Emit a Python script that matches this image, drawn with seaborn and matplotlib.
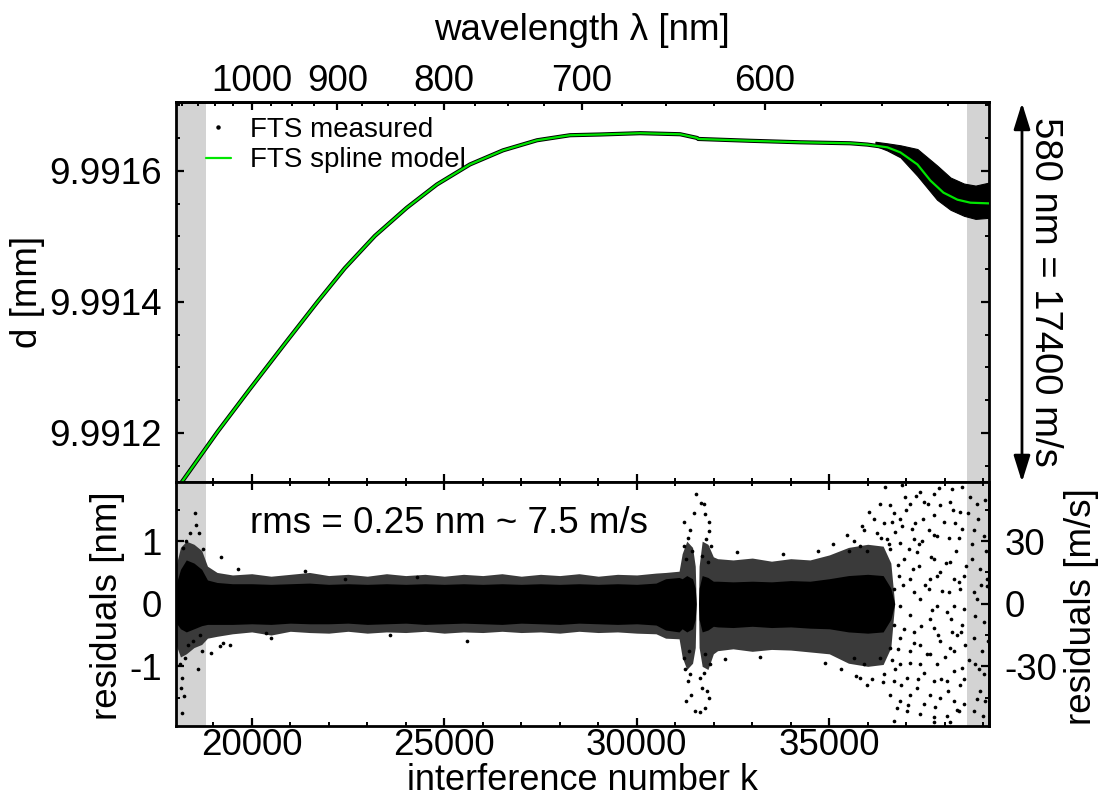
import numpy as np
import pandas as pd
import matplotlib
matplotlib.use("Agg")
import matplotlib.pyplot as plt
import seaborn as sns
from matplotlib.lines import Line2D
from matplotlib.ticker import MultipleLocator, FixedLocator, FormatStrFormatter, NullFormatter

# ---------------- data ----------------
# spline model d(k) [mm]
k_model = [18100, 18206, 19116, 19948, 20858, 21716, 22418, 23198, 24030, 24810,
           25668, 26526, 27410, 28268, 29048, 30088, 31128, 31570, 31596, 32948,
           34248, 35548, 35990, 36510, 36848, 37290, 37628, 37966, 38330, 38668, 39188]
d_model = [9.9911180, 9.9911268, 9.9912020, 9.9912667, 9.9913360, 9.9914006, 9.9914514,
           9.9915006, 9.9915437, 9.9915791, 9.9916097, 9.9916312, 9.9916466, 9.9916543,
           9.9916554, 9.9916574, 9.9916558, 9.9916501, 9.9916486, 9.9916458, 9.9916435,
           9.9916420, 9.9916400, 9.9916358, 9.9916281, 9.9916097, 9.9915851, 9.9915667,
           9.9915559, 9.9915513, 9.9915502]

# spread of the measured points where they scatter (k > 36000) [mm]
meas_k = [36200, 36500, 36850, 37290, 37800, 38150, 38500, 38800, 39150]
meas_hi = [9.9916443, 9.9916420, 9.9916389, 9.9916332, 9.9916082, 9.9915897, 9.9915805, 9.9915774, 9.9915820]
meas_lo = [9.9916381, 9.9916312, 9.9916205, 9.9915923, 9.9915559, 9.9915405, 9.9915313, 9.9915266, 9.9915282]

# dense residual cloud envelope [nm]
band_k = [18030, 18150, 18300, 18500, 18700, 18850, 19100, 19500, 20000, 20500, 21000,
          21500, 22000, 22500, 23000, 23500, 24000, 24500, 25000, 25500, 26000, 26500,
          27000, 27500, 28000, 28500, 29000, 29500, 30000, 30500, 30750, 31100, 31180,
          31300, 31450, 31520, 31545, 31605, 31620, 31700, 31850, 31990, 32100, 32500,
          33000, 33500, 34000, 34500, 35000, 35500, 36000, 36400, 36600, 36700]
band_outer_hi = [0.60, 0.90, 1.00, 0.95, 0.85, 0.60, 0.50, 0.46, 0.48, 0.44, 0.47,
                 0.50, 0.45, 0.47, 0.44, 0.48, 0.45, 0.47, 0.44, 0.47, 0.45, 0.48,
                 0.44, 0.47, 0.45, 0.48, 0.44, 0.47, 0.46, 0.49, 0.50, 0.52, 0.80,
                 1.00, 0.90, 0.60, 0.0, 0.0, 0.60, 1.00, 0.95, 0.75, 0.72, 0.70,
                 0.73, 0.68, 0.72, 0.70, 0.78, 0.90, 0.95, 0.92, 0.65, 0.0]
band_inner_hi = [0.30, 0.55, 0.70, 0.65, 0.55, 0.38, 0.34, 0.32, 0.32, 0.31, 0.32,
                 0.33, 0.31, 0.32, 0.31, 0.32, 0.31, 0.32, 0.31, 0.32, 0.31, 0.32,
                 0.31, 0.32, 0.31, 0.32, 0.31, 0.32, 0.31, 0.33, 0.40, 0.42, 0.40,
                 0.45, 0.40, 0.25, 0.0, 0.0, 0.25, 0.45, 0.42, 0.36, 0.36, 0.35,
                 0.36, 0.35, 0.37, 0.36, 0.40, 0.45, 0.47, 0.45, 0.25, 0.0]
band_inner_lo = [-0.30, -0.40, -0.45, -0.40, -0.35, -0.33, -0.33, -0.33, -0.32, -0.33, -0.31,
                 -0.32, -0.32, -0.31, -0.33, -0.32, -0.31, -0.33, -0.32, -0.31, -0.32, -0.33,
                 -0.31, -0.32, -0.33, -0.31, -0.32, -0.33, -0.32, -0.34, -0.42, -0.45, -0.40,
                 -0.45, -0.40, -0.25, 0.0, 0.0, -0.25, -0.45, -0.42, -0.36, -0.37, -0.38,
                 -0.36, -0.38, -0.37, -0.39, -0.40, -0.45, -0.47, -0.45, -0.25, 0.0]
band_outer_lo = [-0.65, -0.85, -0.80, -0.70, -0.65, -0.55, -0.52, -0.48, -0.45, -0.50, -0.44,
                 -0.46, -0.47, -0.44, -0.47, -0.45, -0.46, -0.44, -0.47, -0.45, -0.46, -0.44,
                 -0.46, -0.45, -0.47, -0.44, -0.46, -0.45, -0.47, -0.48, -0.55, -0.56, -0.85,
                 -1.05, -0.95, -0.70, 0.0, 0.0, -0.70, -1.00, -1.05, -0.80, -0.75, -0.72,
                 -0.76, -0.73, -0.74, -0.77, -0.80, -0.95, -1.00, -0.97, -0.70, 0.0]

# individual (sparse) residual points [k], [nm]
sparse_k = [18518, 18544, 18405, 18631, 18284, 18735, 18215, 19211, 18197, 18154, 18232, 18180,
            18605, 18717, 18951, 19168, 19255, 19428, 18128, 18258, 18345, 18475, 18648,
            21378, 19645, 20381, 20511, 23588, 25581, 24282, 22418,
            31535, 31674, 31475, 31761, 31371, 31865, 31319, 31804, 31215, 31925, 31431, 31691,
            31284, 31839, 31258, 31388, 31735, 31319, 31648, 31821, 31865, 31518, 31648, 31778,
            31215, 31908, 31345, 31778, 31230, 31400, 31700, 31880, 31280, 31760,
            36459, 36892, 36978, 37368, 37715, 38192, 38452, 36025, 36588, 36328, 36675, 37108,
            37455, 37888, 38148, 38408, 35895, 36415, 36632, 36892, 37238, 37585, 37715, 38278,
            35635, 35808, 36242, 36502, 36848, 37195, 37412, 37802, 38365, 35505, 35982, 36588,
            36935, 37282, 37715, 38148, 37888, 37325, 36805, 37108, 37628, 38235, 38495, 36675,
            37195, 37585, 38105, 38408, 36848, 37368, 37802, 38235, 38495, 37108, 37628, 38061,
            36675, 37195, 37715, 38192, 38452, 36848, 37368, 37888, 38322, 36588, 37108, 37628,
            38148, 38538, 35635, 35895, 36328, 36848, 37368, 37802, 38235, 38452, 35808, 35982,
            36415, 36675, 37022, 37282, 37715, 38061, 38408, 36588, 36848, 37108, 37455, 37888,
            38235, 38495, 36762, 37022, 37368, 37715, 38061, 38365, 36675, 37715, 38148,
            38668, 38842, 39058, 38755, 39015, 38712, 38928, 39102, 38755, 38842, 39102, 39015,
            38755, 38972, 38798, 39015, 38928, 38842, 39058, 38755,
            36550, 36620, 36700, 36720, 36780, 36790, 36830, 36870, 36910, 36950, 36990, 37040,
            37060, 37090, 37150, 37170, 37210, 37250, 37300, 37340, 37390, 37430, 37470, 37500,
            37540, 37560, 37610, 37650, 37680, 37730, 37760, 37790, 37830, 37860, 37900, 37940,
            37980, 38010, 38040, 38080, 38120, 38170, 38210, 38250, 38290, 38330, 38380, 38420,
            38460, 38510, 38550, 38600, 38640, 38700, 38780, 38860, 38900, 38950, 39000, 39080,
            39120, 35100, 35300, 35450, 35700, 35850, 36100, 36150, 36350, 36400, 34700, 34900,
            33800, 33200, 32600, 32300]
sparse_r = [1.45, 1.26, 1.13, 1.13, 1.00, 0.87, 0.89, 0.74, -1.18, -1.34, -1.47, -1.75,
            -1.05, -0.76, -0.79, -0.68, -0.63, -0.66, -0.97, -0.87, -0.66, -0.60, -0.50,
            0.53, 0.55, -0.47, -0.55, -0.50, -0.60, 0.42, 0.40,
            1.75, 1.61, 1.45, 1.43, 1.18, 1.16, 1.05, 1.03, 0.92, 0.92, 0.84, 0.76,
            0.71, 0.66, -1.05, -1.13, -1.10, -1.23, -1.18, -1.39, -1.50, -1.71, -1.73, -1.66,
            -0.87, -0.97, -0.76, -0.81, 1.30, -1.45, -1.35, 1.30, -1.55, 1.60,
            1.87, 1.89, 1.71, 1.79, 1.76, 1.84, 1.87, 1.47, 1.58, 1.60, 1.45, 1.60,
            1.63, 1.58, 1.63, 1.47, 1.18, 1.29, 1.31, 1.24, 1.29, 1.18, 1.42, 1.29,
            1.00, 0.92, 1.13, 1.03, 0.97, 1.03, 1.00, 1.08, 1.05, 0.84, 0.84, 0.87,
            0.71, 0.82, 0.71, 0.66, 0.50, 0.60, 0.45, 0.40, 0.40, 0.40, 0.45, 0.24,
            0.18, 0.24, 0.18, 0.24, -0.03, 0.08, -0.03, -0.03, -0.08, -0.18, -0.24, -0.13,
            -0.34, -0.45, -0.39, -0.45, -0.34, -0.55, -0.66, -0.60, -0.50, -0.71, -0.76, -0.81,
            -0.71, -0.66, -0.87, -0.97, -0.87, -0.97, -0.97, -0.97, -1.08, -1.02, -1.18, -1.29,
            -1.13, -1.23, -1.18, -1.34, -1.23, -1.23, -1.29, -1.45, -1.55, -1.45, -1.60, -1.50,
            -1.55, -1.60, -1.66, -1.71, -1.76, -1.81, -1.79, -1.71, -1.87, -1.89, -1.89,
            1.71, 1.60, 1.66, 1.18, 1.08, 0.71, 0.55, 0.40, 0.18, 0.08, 0.29, -0.29,
            -0.55, -0.76, -0.97, -1.13, -1.39, -1.52, -1.55, -1.71,
            0.95, -0.90, 1.15, -1.05, 0.62, -0.72, 1.35, -1.30, 0.30, -0.40, 1.50, -1.62,
            0.88, -0.95, 1.20, 0.55, -0.62, 1.72, -1.20, 0.95, -0.35, 1.35, -1.10, 0.30,
            -0.80, 1.60, -1.45, 0.75, -0.10, 1.10, -1.65, 0.45, -0.50, 1.85, -1.20, 0.20,
            1.30, -0.85, 0.65, -1.40, 1.05, -0.25, 1.50, -0.75, 0.85, -1.70, 0.35, -0.45,
            1.20, -1.20, 0.60, 1.45, -0.90, 0.95, -0.20, 1.35, -1.05, 0.30, -1.80, 0.85,
            -0.60, 0.95, -1.05, 1.10, -1.15, 1.25, -1.20, 1.35, 1.05, -1.25, 0.85, -0.95,
            0.80, -0.85, 0.82, -0.88]

excluded_left = (18020, 18800)
excluded_right = (38580, 39150)

top_ticks_nm = [1000, 900, 800, 700, 600]
top_minor_nm = [1100, 1075, 1050, 1025, 975, 950, 925, 875, 850, 825, 775, 750, 725,
                675, 650, 625, 575, 550, 525]
d_ticks = [9.9912, 9.9914, 9.9916]
res_ticks = [-1, 0, 1]
vel_ticks = [-30, 0, 30]
k_ticks = [20000, 25000, 30000, 35000]

# ---------------- style ----------------
sns.set_theme(style="ticks")
plt.rcParams["font.family"] = ["Liberation Sans", "DejaVu Sans"]
plt.rcParams.update({
    "axes.linewidth": 2.0,
    "axes.unicode_minus": False,
    "xtick.direction": "in", "ytick.direction": "in",
    "xtick.major.size": 5.5, "ytick.major.size": 5.5,
    "xtick.minor.size": 3.0, "ytick.minor.size": 3.0,
    "xtick.major.width": 1.6, "ytick.major.width": 1.6,
    "xtick.minor.width": 1.4, "ytick.minor.width": 1.4,
    "xtick.color": "black", "ytick.color": "black",
    "xtick.labelcolor": "black", "ytick.labelcolor": "black",
    "axes.edgecolor": "black", "axes.labelcolor": "black", "text.color": "black",
    "font.size": 26,
})
FS = 26.5
GREEN = "#00e600"

fig = plt.figure(figsize=(11.07, 7.98), dpi=100)
L, W = 0.15854, 0.73487
ax1 = fig.add_axes([L, 0.39599, W, 0.47619])
ax2 = fig.add_axes([L, 0.09085, W, 0.30514], sharex=ax1)

# ---------------- top panel ----------------
for a in (ax1, ax2):
    a.axvspan(*excluded_left, color="#d3d3d3", lw=0, zorder=0)
    a.axvspan(*excluded_right, color="#d3d3d3", lw=0, zorder=0)

df_model = pd.DataFrame({"k": k_model, "d": d_model})
ax1.fill_between(meas_k, meas_lo, meas_hi, color="black", lw=0.8, zorder=2)
sns.lineplot(data=df_model, x="k", y="d", ax=ax1, color="black", lw=3.0,
             sort=False, estimator=None, zorder=2)
sns.lineplot(data=df_model, x="k", y="d", ax=ax1, color=GREEN, lw=1.6,
             sort=False, estimator=None, zorder=3)

ax1.set_xlim(18020, 39150)
ax1.set_ylim(9.991125, 9.991705)
ax1.yaxis.set_major_locator(FixedLocator(d_ticks))
ax1.yaxis.set_major_formatter(FormatStrFormatter("%.4f"))
ax1.yaxis.set_minor_locator(MultipleLocator(0.00005))
ax1.tick_params(which="both", left=True, right=True, bottom=True, top=False,
                labelbottom=False, labelsize=FS)
ax1.tick_params(axis="y", pad=10)
ax1.set_xlabel("")
ax1.set_ylabel("d [mm]", fontsize=FS)
ax1.yaxis.set_label_coords(-0.160, 0.5)

handles = [Line2D([], [], marker="o", markersize=2.2, color="black", ls="none"),
           Line2D([], [], color=GREEN, lw=1.6)]
ax1.legend(handles, ["FTS measured", "FTS spline model"], loc="upper left",
           bbox_to_anchor=(0.037, 0.960), frameon=False, fontsize=20,
           handlelength=0.9, handletextpad=0.7, labelspacing=0.15,
           borderaxespad=0, borderpad=0)

def k2lam(k):
    k = np.asarray(k, dtype=float)
    with np.errstate(divide="ignore", invalid="ignore"):
        return 2e7 / k

sec = ax1.secondary_xaxis("top", functions=(k2lam, k2lam))
sec.xaxis.set_major_locator(FixedLocator(top_ticks_nm))
sec.xaxis.set_minor_locator(FixedLocator(top_minor_nm))
sec.xaxis.set_minor_formatter(NullFormatter())
sec.tick_params(which="both", direction="in", labelsize=FS, pad=2)
fig.text(0.5258, 1 - 40 / 798, "wavelength λ [nm]", fontsize=FS, ha="center", va="baseline")

# ---------------- residual panel ----------------
ax2.fill_between(band_k, band_outer_lo, band_outer_hi, color="#3a3a3a", lw=0, zorder=2)
ax2.fill_between(band_k, band_inner_lo, band_inner_hi, color="black", lw=0, zorder=3)
sns.scatterplot(x=sparse_k, y=sparse_r, ax=ax2, color="black", s=7, linewidth=0, zorder=4)

ax2.set_ylim(-1.945, 1.945)
ax2.yaxis.set_major_locator(FixedLocator(res_ticks))
ax2.yaxis.set_minor_locator(MultipleLocator(0.5))
ax2.xaxis.set_major_locator(FixedLocator(k_ticks))
ax2.xaxis.set_minor_locator(MultipleLocator(1000))
ax2.tick_params(which="both", left=True, right=False, bottom=True, top=True,
                labelsize=FS)
ax2.tick_params(axis="y", pad=10)
ax2.tick_params(axis="x", pad=1.5)
ax2.set_ylabel("residuals [nm]", fontsize=FS)
ax2.yaxis.set_label_coords(-0.062, 0.4925)
ax2.set_xlabel("interference number k", fontsize=26)
ax2.xaxis.set_label_coords(0.5, -0.152)
ax2.text(0.0916, 0.7917, "rms = 0.25 nm ~ 7.5 m/s", transform=ax2.transAxes,
         fontsize=FS, ha="left", va="baseline")

sec2 = ax2.secondary_yaxis("right", functions=(lambda r: np.asarray(r) * 30.0,
                                                lambda v: np.asarray(v) / 30.0))
sec2.yaxis.set_major_locator(FixedLocator(vel_ticks))
sec2.yaxis.set_minor_locator(MultipleLocator(15))
sec2.yaxis.set_minor_formatter(NullFormatter())
sec2.tick_params(which="both", direction="in", labelsize=FS, pad=11)
fig.text(0.9774, 1 - 607 / 798, "residuals [m/s]", fontsize=FS, rotation=90,
         ha="center", va="center")

# ---------------- right-hand scale arrow ----------------
fig.add_artist(matplotlib.patches.FancyArrowPatch(
    (0.9232, 0.3960), (0.9232, 0.8710), transform=fig.transFigure,
    arrowstyle="<|-|>,head_length=0.8,head_width=0.25", mutation_scale=20,
    color="black", lw=2.0, shrinkA=0, shrinkB=0))
fig.text(0.9440, 0.634, "580 nm = 17400 m/s", rotation=-90, ha="center", va="center",
         fontsize=27.5)

fig.savefig("out.png", dpi=100)
